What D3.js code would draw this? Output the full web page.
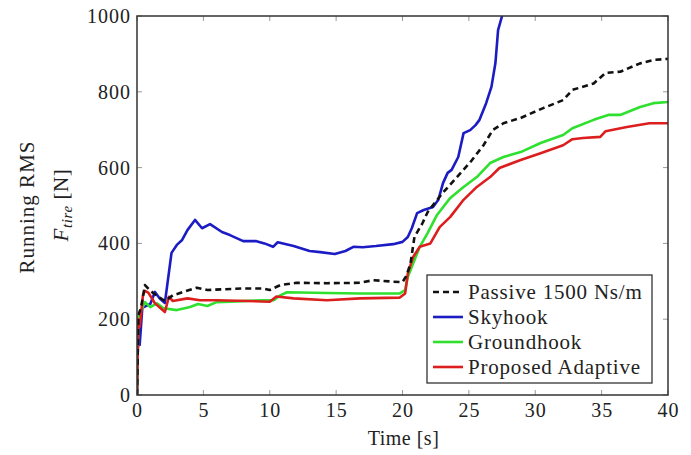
<!DOCTYPE html>
<html>
<head>
<meta charset="utf-8">
<script src="https://cdn.jsdelivr.net/npm/d3@7"></script>
<style>
  html, body { margin: 0; padding: 0; background: #fff; }
  svg text { font-family: "Liberation Serif", "DejaVu Serif", serif; fill: #222; }
</style>
</head>
<body>
<svg id="chart" width="691" height="455"></svg>
<script>
// ---------------------------------------------------------
// Running RMS of tire force vs time, four suspension controllers
// ---------------------------------------------------------

// series values
const passiveT = [0, 0.1, 0.3, 0.6, 1.0, 1.5, 2.1, 2.7, 3.5, 4.5, 5.3, 6.5, 8, 9.5, 10, 10.8, 12, 14.3, 16.8, 17.8, 19.3, 20, 20.3, 20.6, 20.9, 21.5, 21.9, 23, 24.1, 25.1, 26.1, 26.8, 27.6, 28.9, 30.6, 32.1, 32.8, 34.4, 35.3, 36.4, 37.9, 38.9, 40];
const passiveV = [0, 211, 230, 290, 275, 262, 248, 263, 272, 283, 277, 279, 281, 281, 277, 290, 296, 295, 296, 303, 299, 298, 315, 347, 417, 453, 483, 532, 575, 614, 659, 699, 717, 731, 757, 778, 805, 822, 850, 853, 875, 884, 887];

const skyT = [0, 0.1, 0.2, 0.4, 0.7, 1.0, 1.35, 1.7, 2.1, 2.6, 3.0, 3.4, 3.8, 4.37, 4.9, 5.5, 6.4, 7, 8, 9, 9.6, 10.25, 10.6, 11.8, 13, 13.8, 14.9, 15.7, 16.3, 17, 18, 19.3, 20, 20.4, 20.7, 21.1, 21.6, 22.3, 22.7, 23.05, 23.4, 23.7, 24.2, 24.6, 25.1, 25.5, 25.8, 26.3, 26.7, 27, 27.2, 27.5, 27.6];
const skyV = [0, 200, 132, 230, 235, 240, 272, 255, 243, 375, 396, 409, 435, 462, 440, 451, 430, 422, 406, 406, 400, 391, 403, 393, 380, 377, 372, 380, 391, 390, 393, 398, 404, 417, 440, 480, 488, 496, 515, 559, 586, 594, 628, 691, 699, 712, 726, 770, 813, 876, 963, 1000, 1030];

const groundT = [0, 0.1, 0.6, 1.0, 1.5, 2.0, 3.0, 4.0, 4.6, 5.3, 6.0, 7.5, 9.5, 10.3, 10.8, 11.3, 14.3, 16.8, 19.8, 20.2, 20.4, 20.8, 21.3, 21.9, 22.6, 23.6, 24.6, 25.6, 26.6, 27.6, 28.9, 30.4, 32.1, 32.8, 34.4, 35.5, 36.4, 37.9, 38.9, 40];
const groundV = [0, 206, 245, 232, 242, 229, 224, 232, 240, 235, 245, 247, 250, 250, 263, 271, 269, 268, 268, 277, 311, 347, 391, 428, 475, 520, 549, 575, 612, 628, 641, 665, 686, 704, 726, 739, 739, 760, 770, 773];

const adaptT = [0, 0.1, 0.2, 0.3, 0.45, 0.6, 0.85, 1.35, 2.1, 2.4, 2.7, 3.8, 4.75, 6, 8.3, 10, 10.5, 11.8, 14.3, 16.8, 19.8, 20.2, 20.4, 20.8, 21.3, 22.1, 22.8, 23.6, 24.6, 25.6, 26.6, 27.3, 28.9, 30.4, 32.1, 32.8, 33.6, 34.9, 35.3, 36.9, 38.6, 40];
const adaptV = [0, 200, 180, 210, 264, 275, 270, 242, 219, 259, 248, 255, 250, 250, 248, 246, 260, 255, 250, 255, 257, 268, 321, 364, 391, 400, 443, 470, 515, 549, 575, 599, 620, 638, 659, 675, 678, 681, 696, 707, 717, 717];

const seriesNames = ["Passive 1500 Ns/m", "Skyhook", "Groundhook", "Proposed Adaptive"];
const xTicks = [0, 5, 10, 15, 20, 25, 30, 35, 40];
const yTicks = [0, 200, 400, 600, 800, 1000];

// styling per series (same order as seriesNames)
const seriesStyle = [
  { color: "#111111", dash: "6,4" },
  { color: "#1c1cc4", dash: null },
  { color: "#2fe02f", dash: null },
  { color: "#dc1e1e", dash: null }
];

const series = [
  [passiveT, passiveV],
  [skyT, skyV],
  [groundT, groundV],
  [adaptT, adaptV]
].map(([t, v], i) => ({
  name: seriesNames[i],
  style: seriesStyle[i],
  pts: t.map((d, j) => ({ t: d, v: v[j] }))
}));

// ---------------------------------------------------------
// LAYOUT
// ---------------------------------------------------------
const svg = d3.select("#chart");
const L = 137, R = 668, T = 16, B = 395;

const x = d3.scaleLinear().domain([0, 40]).range([L, R]);
const y = d3.scaleLinear().domain([0, 1000]).range([B, T]);

svg.append("defs").append("clipPath").attr("id", "plotClip")
  .append("rect").attr("x", L).attr("y", T).attr("width", R - L).attr("height", B - T);

// ticks pointing inward on all four sides
const tickLen = 5;
const tickG = svg.append("g").attr("stroke", "#999").attr("stroke-width", 1);
xTicks.forEach(t => {
  tickG.append("line").attr("x1", x(t)).attr("x2", x(t)).attr("y1", B).attr("y2", B - tickLen);
  tickG.append("line").attr("x1", x(t)).attr("x2", x(t)).attr("y1", T).attr("y2", T + tickLen);
});
yTicks.forEach(v => {
  tickG.append("line").attr("x1", L).attr("x2", L + tickLen).attr("y1", y(v)).attr("y2", y(v));
  tickG.append("line").attr("x1", R).attr("x2", R - tickLen).attr("y1", y(v)).attr("y2", y(v));
});

// ---------------------------------------------------------
// LINES
// ---------------------------------------------------------
const line = d3.line().x(d => x(d.t)).y(d => y(d.v));

svg.append("g").attr("clip-path", "url(#plotClip)")
  .selectAll("path")
  .data([series[1], series[2], series[3], series[0]])
  .join("path")
  .attr("d", d => line(d.pts))
  .attr("fill", "none")
  .attr("stroke", d => d.style.color)
  .attr("stroke-width", 2.6)
  .attr("stroke-linejoin", "round")
  .attr("stroke-dasharray", d => d.style.dash);

// frame
svg.append("rect")
  .attr("x", L).attr("y", T).attr("width", R - L).attr("height", B - T)
  .attr("fill", "none").attr("stroke", "#333").attr("stroke-width", 1.5);

// tick labels (CM-like width via a bit of letter spacing)
svg.append("g").selectAll("text").data(xTicks).join("text")
  .attr("x", d => x(d) + 0.5).attr("y", 417)
  .attr("text-anchor", "middle")
  .style("font-size", "20px")
  .style("letter-spacing", "1px")
  .text(d => d);

svg.append("g").selectAll("text").data(yTicks).join("text")
  .attr("x", 131).attr("y", d => y(d) + 7)
  .attr("text-anchor", "end")
  .style("font-size", "20px")
  .style("letter-spacing", "1px")
  .text(d => d);

// axis titles
svg.append("text")
  .attr("x", (L + R) / 2 + 1).attr("y", 445)
  .attr("text-anchor", "middle")
  .style("font-size", "20px")
  .style("letter-spacing", "0.5px")
  .text("Time [s]");

svg.append("text")
  .attr("transform", "translate(34,207) rotate(-90)")
  .attr("text-anchor", "middle")
  .style("font-size", "21px")
  .style("letter-spacing", "1px")
  .text("Running RMS");

const fLabel = svg.append("text")
  .attr("transform", "translate(68,205) rotate(-90)")
  .attr("text-anchor", "middle")
  .style("font-size", "21px")
  .style("letter-spacing", "0.6px");
fLabel.append("tspan").style("font-style", "italic").text("F");
fLabel.append("tspan").style("font-style", "italic").style("font-size", "15px")
  .attr("dy", 4).text("tire");
fLabel.append("tspan").attr("dy", -4).text(" [N]");

// ---------------------------------------------------------
// LEGEND
// ---------------------------------------------------------
const lg = svg.append("g");
lg.append("rect")
  .attr("x", 427).attr("y", 275).attr("width", 225).attr("height", 108)
  .attr("fill", "#fff").attr("stroke", "#333").attr("stroke-width", 1.3);

const rowY = d3.scalePoint().domain(seriesNames).range([292, 367]);

const rows = lg.selectAll("g.row").data(series).join("g").attr("class", "row");
rows.append("line")
  .attr("x1", 433).attr("x2", 463)
  .attr("y1", d => rowY(d.name)).attr("y2", d => rowY(d.name))
  .attr("stroke", d => d.style.color)
  .attr("stroke-width", 2.6)
  .attr("stroke-dasharray", d => d.style.dash ? "6,4" : null);
rows.append("text")
  .attr("x", 468).attr("y", d => rowY(d.name) + 7)
  .style("font-size", "21px")
  .style("letter-spacing", "0.8px")
  .text(d => d.name);
</script>
</body>
</html>
